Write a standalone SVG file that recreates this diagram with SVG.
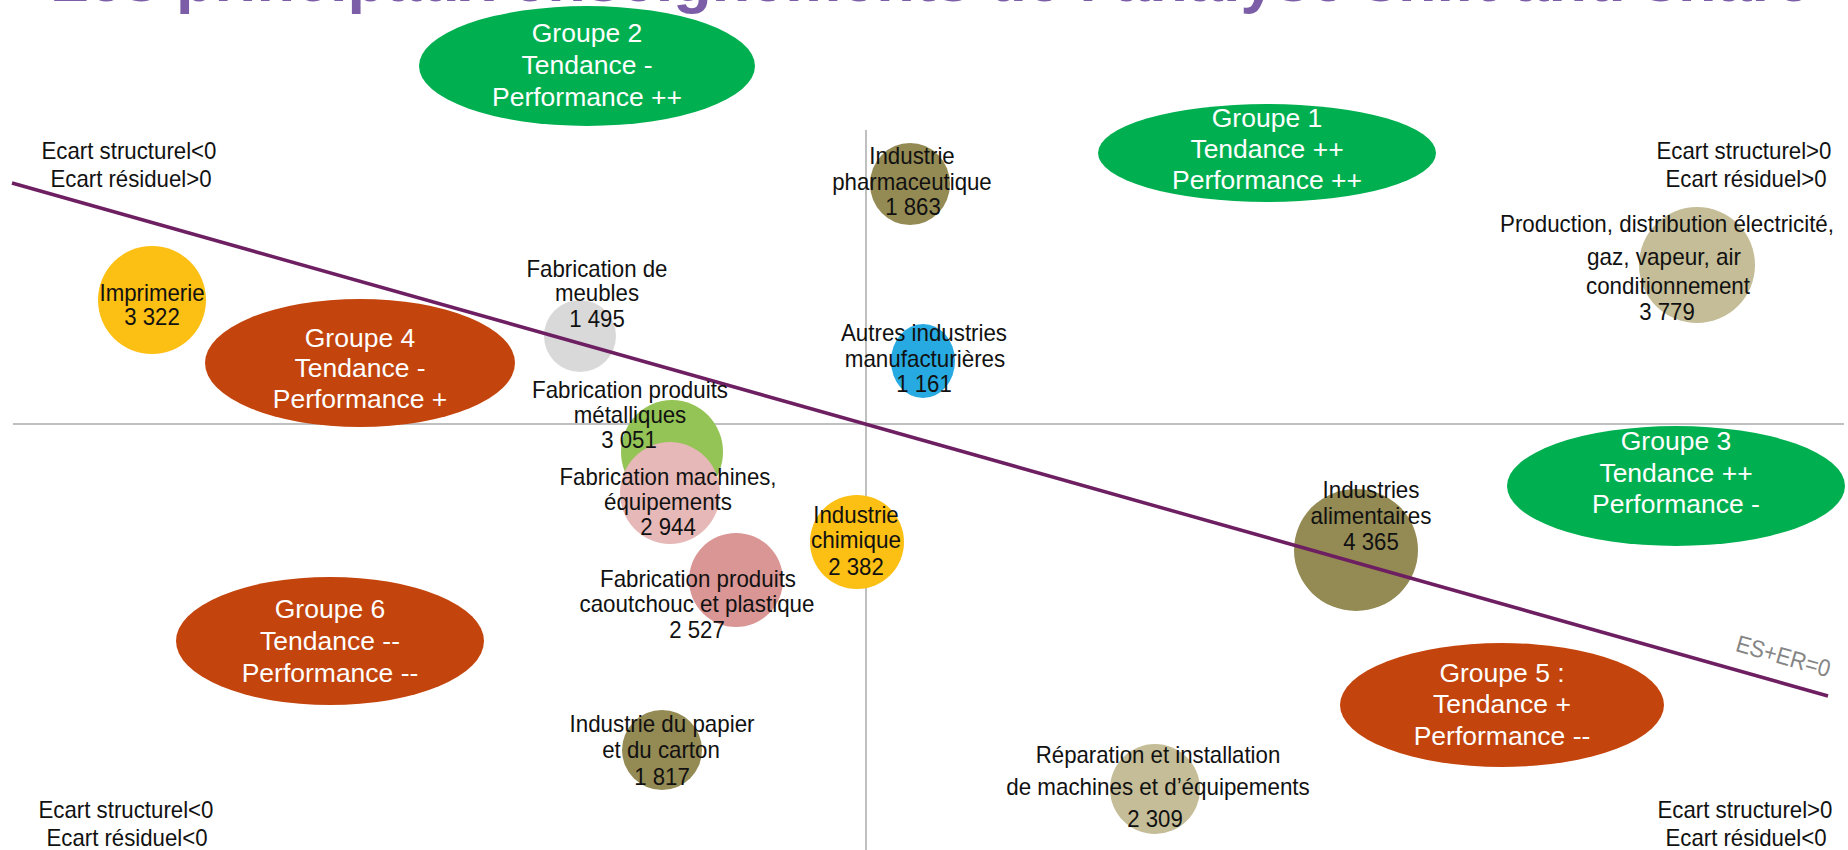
<svg xmlns="http://www.w3.org/2000/svg" width="1848" height="850" viewBox="0 0 1848 850">
<style>
.title{font-family:"Liberation Sans",Arial,sans-serif;font-weight:bold;font-size:63px;fill:#7B5EA7}
.lbl{font-family:"Liberation Sans",Arial,sans-serif;font-size:24px;fill:#111111;text-anchor:middle}
.grp{font-family:"Liberation Sans",Arial,sans-serif;font-size:26.5px;fill:#ffffff;text-anchor:middle}
.green{fill:#00B050}
.orange{fill:#C3440C}
.axis{stroke:#C0C0C0;stroke-width:2;fill:none}
.es{stroke:#6D1F62;stroke-width:3.5;fill:none}
.esl{font-family:"Liberation Sans",Arial,sans-serif;font-size:24px;fill:#858585;text-anchor:middle}
</style>
<rect width="1848" height="850" fill="#ffffff"/>
<text class="title" x="50" y="1">Les principaux enseignements de l’analyse shift and share</text>
<g id="axes">
<line class="axis" x1="13" y1="424" x2="1844" y2="424"/>
<line class="axis" x1="866" y1="130" x2="866" y2="850"/>
</g>
<g id="bubbles">
<ellipse id="b-imprimerie" cx="152" cy="300" rx="54" ry="54" fill="#FCBF14"/>
<ellipse id="b-meubles" cx="580" cy="336" rx="36" ry="36" fill="#D9D9D9"/>
<ellipse id="b-metal" cx="672" cy="452" rx="51" ry="52" fill="#94C356"/>
<ellipse id="b-machines" cx="670" cy="493" rx="50" ry="51" fill="#E6B8B7"/>
<ellipse id="b-caoutchouc" cx="736" cy="580" rx="47" ry="47" fill="#D99694"/>
<ellipse id="b-chimique" cx="857" cy="542" rx="47" ry="47" fill="#FCBF14"/>
<ellipse id="b-papier" cx="662" cy="750" rx="40" ry="40" fill="#948A54"/>
<ellipse id="b-pharma" cx="910" cy="184" rx="40" ry="41" fill="#948A54"/>
<ellipse id="b-autres" cx="923" cy="361" rx="32" ry="37" fill="#27AAE1"/>
<ellipse id="b-production" cx="1697" cy="265" rx="58" ry="58" fill="#C4BD97"/>
<ellipse id="b-alimentaires" cx="1356" cy="550" rx="62" ry="61" fill="#948A54"/>
<ellipse id="b-reparation" cx="1155" cy="789" rx="45" ry="45" fill="#C4BD97"/>
</g>
<g id="connectors">
<line class="es" x1="12" y1="183" x2="1828" y2="696"/>
<text class="esl" x="1781" y="664" transform="rotate(16 1781 664)" textLength="97" lengthAdjust="spacingAndGlyphs">ES+ER=0</text>
</g>
<g id="quadrant-labels">
<g id="q-top-left">
<text class="lbl" x="129" y="159" textLength="175" lengthAdjust="spacingAndGlyphs">Ecart structurel&lt;0</text>
<text class="lbl" x="131" y="187" textLength="161" lengthAdjust="spacingAndGlyphs">Ecart résiduel&gt;0</text>
</g>
<g id="q-top-right">
<text class="lbl" x="1744" y="159" textLength="175" lengthAdjust="spacingAndGlyphs">Ecart structurel&gt;0</text>
<text class="lbl" x="1746" y="187" textLength="161" lengthAdjust="spacingAndGlyphs">Ecart résiduel&gt;0</text>
</g>
<g id="q-bottom-left">
<text class="lbl" x="126" y="818" textLength="175" lengthAdjust="spacingAndGlyphs">Ecart structurel&lt;0</text>
<text class="lbl" x="127" y="846" textLength="161" lengthAdjust="spacingAndGlyphs">Ecart résiduel&lt;0</text>
</g>
<g id="q-bottom-right">
<text class="lbl" x="1745" y="818" textLength="175" lengthAdjust="spacingAndGlyphs">Ecart structurel&gt;0</text>
<text class="lbl" x="1746" y="846" textLength="161" lengthAdjust="spacingAndGlyphs">Ecart résiduel&lt;0</text>
</g>
</g>
<g id="labels">
<g id="l-imprimerie">
<text class="lbl" x="152" y="301" textLength="105" lengthAdjust="spacingAndGlyphs">Imprimerie</text>
<text class="lbl" x="152" y="325" textLength="55.5" lengthAdjust="spacingAndGlyphs">3 322</text>
</g>
<g id="l-meubles">
<text class="lbl" x="597" y="277" textLength="141" lengthAdjust="spacingAndGlyphs">Fabrication de</text>
<text class="lbl" x="597" y="301" textLength="84" lengthAdjust="spacingAndGlyphs">meubles</text>
<text class="lbl" x="597" y="327" textLength="55.5" lengthAdjust="spacingAndGlyphs">1 495</text>
</g>
<g id="l-metal">
<text class="lbl" x="630" y="398" textLength="196" lengthAdjust="spacingAndGlyphs">Fabrication produits</text>
<text class="lbl" x="630" y="423" textLength="112.5" lengthAdjust="spacingAndGlyphs">métalliques</text>
<text class="lbl" x="629" y="448" textLength="55.5" lengthAdjust="spacingAndGlyphs">3 051</text>
</g>
<g id="l-machines">
<text class="lbl" x="668" y="485" textLength="217" lengthAdjust="spacingAndGlyphs">Fabrication machines,</text>
<text class="lbl" x="668" y="510" textLength="128" lengthAdjust="spacingAndGlyphs">équipements</text>
<text class="lbl" x="668" y="535" textLength="55.5" lengthAdjust="spacingAndGlyphs">2 944</text>
</g>
<g id="l-caoutchouc">
<text class="lbl" x="698" y="587" textLength="196" lengthAdjust="spacingAndGlyphs">Fabrication produits</text>
<text class="lbl" x="697" y="612" textLength="235" lengthAdjust="spacingAndGlyphs">caoutchouc et plastique</text>
<text class="lbl" x="697" y="638" textLength="55.5" lengthAdjust="spacingAndGlyphs">2 527</text>
</g>
<g id="l-chimique">
<text class="lbl" x="856" y="523" textLength="85.5" lengthAdjust="spacingAndGlyphs">Industrie</text>
<text class="lbl" x="856" y="548" textLength="90" lengthAdjust="spacingAndGlyphs">chimique</text>
<text class="lbl" x="856" y="575" textLength="55.5" lengthAdjust="spacingAndGlyphs">2 382</text>
</g>
<g id="l-papier">
<text class="lbl" x="662" y="732" textLength="185" lengthAdjust="spacingAndGlyphs">Industrie du papier</text>
<text class="lbl" x="661" y="758" textLength="117.5" lengthAdjust="spacingAndGlyphs">et du carton</text>
<text class="lbl" x="662" y="785" textLength="55.5" lengthAdjust="spacingAndGlyphs">1 817</text>
</g>
<g id="l-pharma">
<text class="lbl" x="912" y="164" textLength="85.5" lengthAdjust="spacingAndGlyphs">Industrie</text>
<text class="lbl" x="912" y="190" textLength="159.5" lengthAdjust="spacingAndGlyphs">pharmaceutique</text>
<text class="lbl" x="913" y="215" textLength="55.5" lengthAdjust="spacingAndGlyphs">1 863</text>
</g>
<g id="l-autres">
<text class="lbl" x="924" y="341" textLength="166" lengthAdjust="spacingAndGlyphs">Autres industries</text>
<text class="lbl" x="925" y="367" textLength="160.5" lengthAdjust="spacingAndGlyphs">manufacturières</text>
<text class="lbl" x="924" y="392" textLength="55.5" lengthAdjust="spacingAndGlyphs">1 161</text>
</g>
<g id="l-production">
<text class="lbl" x="1667" y="232" textLength="334" lengthAdjust="spacingAndGlyphs">Production, distribution électricité,</text>
<text class="lbl" x="1664" y="265" textLength="154" lengthAdjust="spacingAndGlyphs">gaz, vapeur, air</text>
<text class="lbl" x="1668" y="294" textLength="164" lengthAdjust="spacingAndGlyphs">conditionnement</text>
<text class="lbl" x="1667" y="320" textLength="55.5" lengthAdjust="spacingAndGlyphs">3 779</text>
</g>
<g id="l-alimentaires">
<text class="lbl" x="1371" y="498" textLength="97" lengthAdjust="spacingAndGlyphs">Industries</text>
<text class="lbl" x="1371" y="524" textLength="121" lengthAdjust="spacingAndGlyphs">alimentaires</text>
<text class="lbl" x="1371" y="550" textLength="55.5" lengthAdjust="spacingAndGlyphs">4 365</text>
</g>
<g id="l-reparation">
<text class="lbl" x="1158" y="763" textLength="244.5" lengthAdjust="spacingAndGlyphs">Réparation et installation</text>
<text class="lbl" x="1158" y="795" textLength="303.5" lengthAdjust="spacingAndGlyphs">de machines et d’équipements</text>
<text class="lbl" x="1155" y="827" textLength="55.5" lengthAdjust="spacingAndGlyphs">2 309</text>
</g>
</g>
<g id="groups">
<g id="groupe-2">
<ellipse class="green" cx="587" cy="66" rx="168" ry="60"/>
<text class="grp" x="587" y="42">Groupe 2</text>
<text class="grp" x="587" y="74">Tendance -</text>
<text class="grp" x="587" y="106">Performance ++</text>
</g>
<g id="groupe-1">
<ellipse class="green" cx="1267" cy="153" rx="169" ry="49"/>
<text class="grp" x="1267" y="127">Groupe 1</text>
<text class="grp" x="1267" y="158">Tendance ++</text>
<text class="grp" x="1267" y="189">Performance ++</text>
</g>
<g id="groupe-3">
<ellipse class="green" cx="1676" cy="486" rx="169" ry="60"/>
<text class="grp" x="1676" y="450">Groupe 3</text>
<text class="grp" x="1676" y="482">Tendance ++</text>
<text class="grp" x="1676" y="513">Performance -</text>
</g>
<g id="groupe-4">
<ellipse class="orange" cx="360" cy="363" rx="155" ry="64"/>
<text class="grp" x="360" y="347">Groupe 4</text>
<text class="grp" x="360" y="377">Tendance -</text>
<text class="grp" x="360" y="408">Performance +</text>
</g>
<g id="groupe-6">
<ellipse class="orange" cx="330" cy="641" rx="154" ry="64"/>
<text class="grp" x="330" y="618">Groupe 6</text>
<text class="grp" x="330" y="650">Tendance --</text>
<text class="grp" x="330" y="682">Performance --</text>
</g>
<g id="groupe-5">
<ellipse class="orange" cx="1502" cy="705" rx="162" ry="62"/>
<text class="grp" x="1502" y="682">Groupe 5 :</text>
<text class="grp" x="1502" y="713">Tendance +</text>
<text class="grp" x="1502" y="745">Performance --</text>
</g>
</g>
</svg>
